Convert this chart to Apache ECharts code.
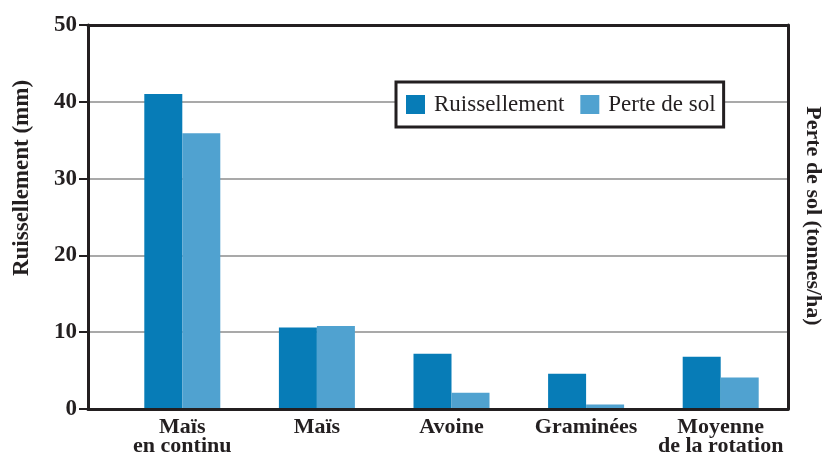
<!DOCTYPE html>
<html>
<head>
    <meta charset="UTF-8"/>
    <title>Ruissellement et perte de sol</title>
    <script src="https://cdn.jsdelivr.net/npm/echarts@6/dist/echarts.min.js"></script>
    <style>
        html, body { margin: 0; padding: 0; background: #fff; }
    </style>
</head>
<body>
<div id="main" style="width: 830px;height:459px;"></div>
<script>
    // données
    var categories = ['Maïs\nen continu', 'Maïs', 'Avoine', 'Graminées', 'Moyenne\nde la rotation'];
    var ruissellement = [41.0, 10.6, 7.2, 4.6, 6.8];
    var perteDeSol = [35.9, 10.8, 2.1, 0.6, 4.1];
    var yMin = 0, yMax = 50, yStep = 10;

    var ink = '#231f20';
    var serif = '"Liberation Serif", "DejaVu Serif", serif';
    var frame = {show: true, onZero: false, lineStyle: {color: ink, width: 3}};

    var myChart = echarts.init(document.getElementById('main'));

    option = {
        animation: false,
        color: ['#077cb7', '#50a2d0'],
        grid: [
            {left: 115, right: 42, top: 25, bottom: 50},   // barres
            {left: 88, right: 42, top: 25, bottom: 50}     // cadre + axes
        ],
        legend: {
            data: ['Ruissellement', 'Perte de sol'],
            left: 396,
            top: 82,
            padding: [11, 8, 11, 10],
            itemGap: 16,
            itemWidth: 19,
            itemHeight: 19,
            icon: 'rect',
            borderWidth: 3,
            borderColor: ink,
            borderRadius: 0,
            backgroundColor: '#fff',
            z: 10,
            textStyle: {fontFamily: serif, fontSize: 23, color: ink, padding: [0, 0, 0, 4]}
        },
        xAxis: [
            {
                type: 'category', gridIndex: 0, data: categories,
                axisLine: {show: false}, axisTick: {show: false},
                axisLabel: {fontFamily: serif, fontWeight: 'bold', fontSize: 22, color: ink,
                            margin: 9, lineHeight: 19, interval: 0}
            },
            {type: 'value', gridIndex: 1, position: 'bottom', min: 0, max: 1, z: 5,
             axisLine: frame, axisTick: {show: false}, axisLabel: {show: false}, splitLine: {show: false}},
            {type: 'value', gridIndex: 1, position: 'top', min: 0, max: 1, z: 5,
             axisLine: frame, axisTick: {show: false}, axisLabel: {show: false}, splitLine: {show: false}}
        ],
        yAxis: [
            {
                type: 'value', gridIndex: 1, position: 'left', z: 1,
                min: yMin, max: yMax, interval: yStep,
                axisLine: frame,
                axisTick: {show: true, length: 9, lineStyle: {color: ink, width: 2}},
                axisLabel: {fontFamily: serif, fontWeight: 'bold', fontSize: 23, color: ink, margin: 11},
                splitLine: {show: true, lineStyle: {color: '#8c8c8c', width: 1.5}}
            },
            {
                type: 'value', gridIndex: 1, position: 'right', z: 5,
                min: yMin, max: yMax, interval: yStep,
                axisLine: frame, axisTick: {show: false}, axisLabel: {show: false}, splitLine: {show: false}
            },
            {type: 'value', gridIndex: 0, min: yMin, max: yMax, show: false}
        ],
        graphic: [
            {
                type: 'text', x: 22, y: 178, rotation: Math.PI / 2,
                style: {text: 'Ruissellement (mm)', fontFamily: serif, fontWeight: 'bold', fontSize: 23,
                        fill: ink, align: 'center', verticalAlign: 'middle'}
            },
            {
                type: 'text', x: 813, y: 216, rotation: -Math.PI / 2,
                style: {text: 'Perte de sol (tonnes/ha)', fontFamily: serif, fontWeight: 'bold', fontSize: 22,
                        fill: ink, align: 'center', verticalAlign: 'middle'}
            }
        ],
        series: [
            {
                name: 'Ruissellement', type: 'bar', xAxisIndex: 0, yAxisIndex: 2,
                barWidth: 38, barGap: '0%', data: ruissellement
            },
            {
                name: 'Perte de sol', type: 'bar', xAxisIndex: 0, yAxisIndex: 2,
                barWidth: 38, barGap: '0%', data: perteDeSol
            }
        ]
    };

    myChart.setOption(option);
</script>
</body>
</html>
